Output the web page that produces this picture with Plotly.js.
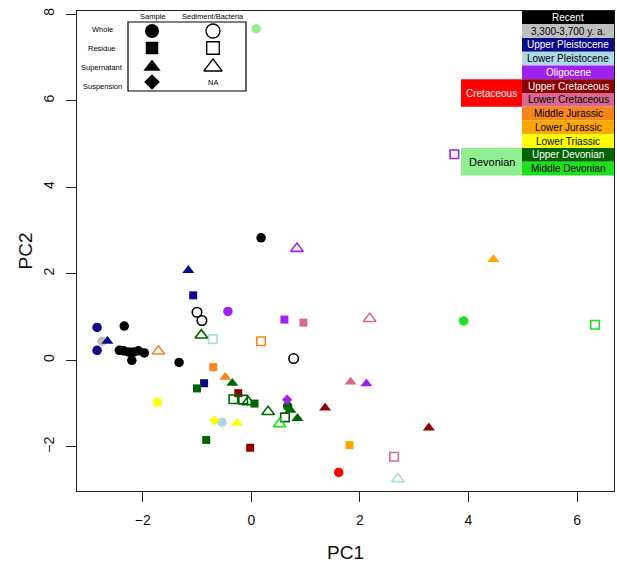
<!DOCTYPE html>
<html><head><meta charset="utf-8">
<script src="https://cdn.plot.ly/plotly-3.0.1.min.js"></script>
<style>html,body{margin:0;padding:0;background:#fff}#chart{width:617px;height:570px}</style>
</head><body><div id="chart"></div>
<script>
// ---- data ----
const pc1 = [-2.84,-2.84,-2.75,-2.65,-2.34,-2.43,-2.35,-2.26,-2.17,-2.08,-1.97,-2.20,-1.33,-1.71,-1.16,-1.07,-1.00,-0.91,-0.43,-0.92,-0.71,0.18,-0.70,-0.48,-0.35,-0.87,-1.00,-1.73,-0.68,-0.54,-0.26,-0.83,-0.02,-0.24,-0.33,-0.15,-0.06,0.06,0.31,0.66,0.67,0.72,0.62,0.52,0.85,1.36,0.18,0.84,4.46,0.61,0.96,2.18,3.91,0.78,1.83,2.12,3.27,1.81,2.63,1.61,2.70,0.09,3.74,6.33];
const pc2 = [0.76,0.23,0.44,0.44,0.79,0.23,0.22,0.19,0.19,0.22,0.17,0.00,-0.05,0.21,2.08,1.50,1.11,0.92,1.13,0.58,0.49,0.44,-0.16,-0.39,-0.53,-0.53,-0.65,-0.97,-1.39,-1.43,-1.45,-1.84,-2.02,-0.76,-0.90,-0.91,-0.96,-1.00,-1.19,-0.91,-1.06,-1.15,-1.32,-1.47,-1.34,-1.10,2.83,2.58,2.33,0.94,0.87,0.96,0.91,0.04,-0.50,-0.54,-1.56,-1.96,-2.23,-2.59,-2.74,7.66,4.76,0.82];
const period = ['Upper Pleistocene','Upper Pleistocene','3,300-3,700 y. a.','Upper Pleistocene','Recent','Recent','Recent','Recent','Recent','Recent','Recent','Recent','Recent','Middle Jurassic','Upper Pleistocene','Upper Pleistocene','Recent','Recent','Oligocene','Upper Devonian','Lower Pleistocene','Middle Jurassic','Middle Jurassic','Middle Jurassic','Upper Devonian','Upper Pleistocene','Upper Devonian','Lower Triassic','Lower Triassic','Lower Pleistocene','Lower Triassic','Upper Devonian','Upper Cretaceous','Upper Cretaceous','Upper Devonian','Upper Devonian','Upper Devonian','Upper Devonian','Upper Devonian','Oligocene','Upper Devonian','Upper Devonian','Upper Devonian','Middle Devonian','Upper Devonian','Upper Cretaceous','Recent','Oligocene','Lower Jurassic','Oligocene','Lower Cretaceous','Lower Cretaceous','Middle Devonian','Recent','Lower Cretaceous','Oligocene','Upper Cretaceous','Lower Jurassic','Lower Cretaceous','Cretaceous','Lower Pleistocene','Devonian','Oligocene','Middle Devonian'];
const fraction = ['Whole','Whole','Whole','Supernatant','Whole','Whole','Whole','Whole','Whole','Whole','Whole','Whole','Whole','Supernatant','Supernatant','Residue','Whole','Whole','Whole','Supernatant','Residue','Residue','Residue','Supernatant','Supernatant','Residue','Residue','Residue','Suspension','Whole','Supernatant','Residue','Residue','Residue','Residue','Residue','Supernatant','Residue','Supernatant','Suspension','Whole','Supernatant','Residue','Supernatant','Supernatant','Supernatant','Whole','Supernatant','Supernatant','Residue','Residue','Supernatant','Whole','Whole','Supernatant','Supernatant','Supernatant','Residue','Residue','Whole','Supernatant','Whole','Residue','Residue'];
const origin = ['Sample','Sample','Sample','Sample','Sample','Sample','Sample','Sample','Sample','Sample','Sample','Sample','Sample','Sediment','Sample','Sample','Sediment','Sediment','Sample','Sediment','Sediment','Sediment','Sample','Sample','Sample','Sample','Sample','Sample','Sample','Sample','Sample','Sample','Sample','Sample','Sediment','Sediment','Sediment','Sample','Sediment','Sample','Sample','Sample','Sediment','Sediment','Sample','Sample','Sample','Sediment','Sample','Sample','Sample','Sediment','Sample','Sediment','Sample','Sample','Sample','Sample','Sediment','Sample','Sediment','Sample','Sediment','Sediment'];

// ---- age table (legend on the right) ----
const tableLabels = ['Recent','3,300-3,700 y. a.','Upper Pleistocene','Lower Pleistocene','Oligocene','Upper Cretaceous','Lower Cretaceous','Middle Jurassic','Lower Jurassic','Lower Triassic','Upper Devonian','Middle Devonian'];
const tableColors = ['#000000','#bebebe','#0a0a85','#add8e6','#a020f0','#8b0000','#d8688f','#f7861a','#ffa500','#ffff00','#006400','#1ee01e'];
const tableTextColors = ['#ffffff','#000000','#ffffff','#000000','#ffffff','#ffffff','#000000','#000000','#000000','#000000','#ffffff','#000000'];
const groupLabels = ['Cretaceous','Devonian'];
const groupColors = ['#ff0000','#90ee90'];
const groupTextColors = ['#ffffff','#000000'];
const groupFirstRow = [5,10];

// ---- symbol legend (top left) ----
const fractionLabels = ['Whole','Residue','Supernatant','Suspension'];
const originLabels = ['Sample','Sediment/Bacteria'];

const colorOf = {};
tableLabels.forEach((l,i)=>colorOf[l]=tableColors[i]);
groupLabels.forEach((l,i)=>colorOf[l]=groupColors[i]);

const symbolOf = {
  Sample:{Whole:'circle',Residue:'square',Supernatant:'triangle-up',Suspension:'diamond'},
  Sediment:{Whole:'circle-open',Residue:'square-open',Supernatant:'triangle-up-open'}
};
const sizeOf = {circle:9.5,square:8,'triangle-up':10.5,diamond:8,'circle-open':9.5,'square-open':8.5,'triangle-up-open':11};

const FONT = 'Liberation Sans, Arial, Helvetica, sans-serif';
const traces = [];
['Sample','Sediment'].forEach(o=>{
  fractionLabels.forEach(f=>{
    const sym = symbolOf[o][f];
    if(!sym) return;
    const xs=[],ys=[],cs=[];
    pc1.forEach((v,i)=>{ if(origin[i]===o && fraction[i]===f){ xs.push(v); ys.push(pc2[i]); cs.push(colorOf[period[i]]); } });
    traces.push({type:'scatter',mode:'markers',x:xs,y:ys,xaxis:'x',yaxis:'y',showlegend:false,hoverinfo:'skip',
      marker:{symbol:sym,size:sizeOf[sym],color:cs,line:{width:sym.endsWith('open')?1.6:0}}});
  });
});

// overlay axes in pixel units of the plot area, for the hand-drawn legends
const PX = [77,614], PY = [491,11];
const annotations = [], shapes = [];
// top-left symbol box
shapes.push({type:'rect',xref:'x2',yref:'y2',x0:128,x1:246,y0:22,y1:91,line:{color:'#000',width:1.2},fillcolor:'rgba(0,0,0,0)'});
const rowY = [31,48,67,82], labY=[29,48,67,86];
const colX = [152,213];
originLabels.forEach((t,i)=>annotations.push({xref:'x2',yref:'y2',x:colX[i],y:16,text:t,showarrow:false,font:{family:FONT,size:7.5,color:'#000'}}));
fractionLabels.forEach((t,i)=>annotations.push({xref:'x2',yref:'y2',x:102,y:labY[i],text:t,showarrow:false,font:{family:FONT,size:7.5,color:'#000'}}));
const legSyms = [['circle','square','triangle-up','diamond'],['circle-open','square-open','triangle-up-open',null]];
const legSize = {circle:14,square:12.5,'triangle-up':15,diamond:12,'circle-open':14,'square-open':12.5,'triangle-up-open':16};
legSyms.forEach((col,c)=>col.forEach((s,r)=>{
  if(!s){ annotations.push({xref:'x2',yref:'y2',x:colX[c],y:rowY[r],text:'NA',showarrow:false,font:{family:FONT,size:7.5,color:'#000'}}); return; }
  traces.push({type:'scatter',mode:'markers',x:[colX[c]],y:[rowY[r]],xaxis:'x2',yaxis:'y2',showlegend:false,hoverinfo:'skip',
    marker:{symbol:s,size:legSize[s],color:'#000',line:{width:s.endsWith('open')?1.3:0}}});
}));
// right colour table
const T0 = 10.5, RH = 13.75, TX0 = 522, TX1 = 614, GX0 = 461;
tableLabels.forEach((t,i)=>{
  shapes.push({type:'rect',xref:'x2',yref:'y2',x0:TX0,x1:TX1,y0:T0+i*RH,y1:T0+(i+1)*RH,fillcolor:tableColors[i],line:{width:0}});
  annotations.push({xref:'x2',yref:'y2',x:(TX0+TX1)/2,y:T0+(i+0.5)*RH,text:t,showarrow:false,font:{family:FONT,size:10,color:tableTextColors[i]}});
});
groupLabels.forEach((t,i)=>{
  const r = groupFirstRow[i];
  shapes.push({type:'rect',xref:'x2',yref:'y2',x0:GX0,x1:TX0,y0:T0+r*RH,y1:T0+(r+2)*RH,fillcolor:groupColors[i],line:{width:0}});
  annotations.push({xref:'x2',yref:'y2',x:(GX0+TX0)/2,y:T0+(r+1)*RH,text:t,showarrow:false,font:{family:FONT,size:i===0?10:11,color:groupTextColors[i]}});
});

const axisCommon = {showgrid:false,zeroline:false,showline:true,mirror:true,linecolor:'#222',linewidth:1.3,
  ticks:'outside',ticklen:10,tickwidth:1,tickcolor:'#222',tickfont:{family:FONT,size:14,color:'#111'}};
const layout = {
  width:617,height:570,margin:{l:77,r:3,t:11,b:79},paper_bgcolor:'#fff',plot_bgcolor:'#fff',
  xaxis:Object.assign({},axisCommon,{range:[-3.21,6.68],tickvals:[-2,0,2,4,6],ticklabelstandoff:6,
    title:{text:'PC1',font:{family:FONT,size:19,color:'#111'},standoff:18}}),
  yaxis:Object.assign({},axisCommon,{range:[-3.02,8.07],tickvals:[-2,0,2,4,6,8],tickangle:-90,ticklabelstandoff:6,
    title:{text:'PC2',font:{family:FONT,size:19,color:'#111'},standoff:3}}),
  xaxis2:{overlaying:'x',anchor:'y2',range:PX,visible:false,fixedrange:true},
  yaxis2:{overlaying:'y',anchor:'x2',range:PY,visible:false,fixedrange:true},
  shapes:shapes,annotations:annotations,showlegend:false
};
Plotly.newPlot('chart',traces,layout,{staticPlot:true,displayModeBar:false});
</script></body></html>
